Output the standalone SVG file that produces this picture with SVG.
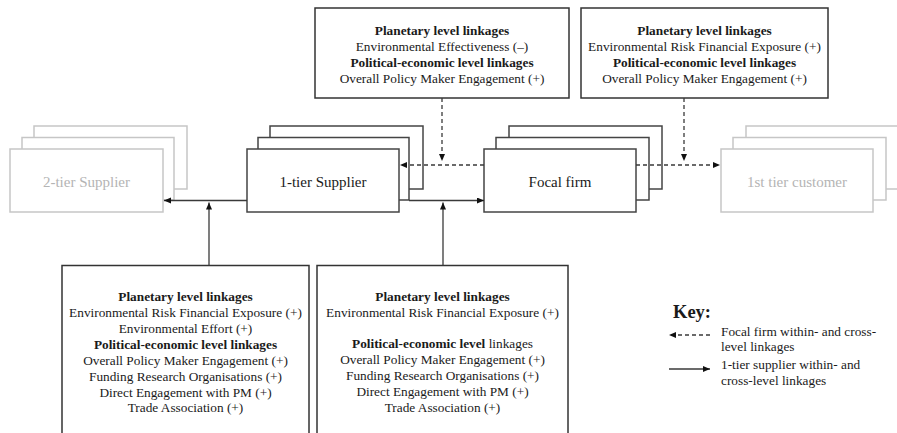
<svg xmlns="http://www.w3.org/2000/svg" width="897" height="433" viewBox="0 0 897 433">
  <defs>
    <style>
      text { font-family: "Liberation Serif", "Times New Roman", serif; fill: #1a1a1a; }
      .t { font-size: 13.3px; text-anchor: middle; }
      .b { font-weight: bold; }
      .node { font-size: 15px; text-anchor: middle; }
      .faded { fill: #b4b4b4; }
      .box { fill: #ffffff; stroke: #333333; stroke-width: 1.5; }
      .card { fill: #ffffff; stroke: #444444; stroke-width: 1.5; }
      .ghost { fill: #ffffff; stroke: #c6c6c6; stroke-width: 1.5; }
      .solid { fill: none; stroke: #3a3a3a; stroke-width: 1.3; }
      .dash { fill: none; stroke: #3a3a3a; stroke-width: 1.3; stroke-dasharray: 4 3; }
      .key { font-size: 13.3px; }
    </style>
    <marker id="head" markerUnits="userSpaceOnUse" markerWidth="8" markerHeight="7" refX="7" refY="3" orient="auto">
      <path d="M0,0 L7,3 L0,6 Z" fill="#111111"/>
    </marker>
  </defs>

  <!-- supply-chain tiers -->
  <g id="tier2-supplier">
    <rect class="ghost" x="34" y="126" width="153" height="63"/>
    <rect class="ghost" x="22" y="137.5" width="152" height="62.5"/>
    <rect class="ghost" x="10" y="149" width="153" height="63"/>
    <text class="node faded" x="86.5" y="187">2-tier Supplier</text>
  </g>

  <g id="tier1-supplier">
    <rect class="card" x="270" y="126" width="153" height="63"/>
    <rect class="card" x="258" y="137.5" width="151" height="62.5"/>
    <rect class="card" x="247" y="149" width="152" height="63"/>
    <text class="node" x="323" y="187">1-tier Supplier</text>
  </g>

  <g id="focal-firm">
    <rect class="card" x="509" y="126" width="153" height="63"/>
    <rect class="card" x="496" y="137.5" width="153" height="62.5"/>
    <rect class="card" x="484" y="149" width="152" height="63"/>
    <text class="node" x="560" y="187">Focal firm</text>
  </g>

  <g id="tier1-customer">
    <rect class="ghost" x="746" y="126" width="160" height="63"/>
    <rect class="ghost" x="733" y="137.5" width="153" height="62.5"/>
    <rect class="ghost" x="721" y="149" width="152" height="63"/>
    <text class="node faded" x="797" y="187">1st tier customer</text>
  </g>

  <!-- linkage boxes -->
  <g id="focal-upstream-linkages">
    <rect class="box" x="315" y="8" width="254" height="90"/>
    <text class="t b" x="442" y="35">Planetary level linkages</text>
    <text class="t" x="442" y="51">Environmental Effectiveness (–)</text>
    <text class="t b" x="442" y="67">Political-economic level linkages</text>
    <text class="t" x="442" y="83">Overall Policy Maker Engagement (+)</text>
  </g>

  <g id="focal-downstream-linkages">
    <rect class="box" x="581" y="8" width="247" height="90"/>
    <text class="t b" x="704.5" y="35">Planetary level linkages</text>
    <text class="t" x="704.5" y="51">Environmental Risk Financial Exposure (+)</text>
    <text class="t b" x="704.5" y="67">Political-economic level linkages</text>
    <text class="t" x="704.5" y="83">Overall Policy Maker Engagement (+)</text>
  </g>

  <g id="supplier-upstream-linkages">
    <rect class="box" x="62" y="265.5" width="247" height="190"/>
    <text class="t b" x="185.5" y="301">Planetary level linkages</text>
    <text class="t" x="185.5" y="317">Environmental Risk Financial Exposure (+)</text>
    <text class="t" x="185.5" y="333">Environmental Effort (+)</text>
    <text class="t b" x="185.5" y="349">Political-economic level linkages</text>
    <text class="t" x="185.5" y="365">Overall Policy Maker Engagement (+)</text>
    <text class="t" x="185.5" y="381">Funding Research Organisations (+)</text>
    <text class="t" x="185.5" y="397">Direct Engagement with PM (+)</text>
    <text class="t" x="185.5" y="412">Trade Association (+)</text>
  </g>

  <g id="supplier-downstream-linkages">
    <rect class="box" x="317" y="265.5" width="251" height="190"/>
    <text class="t b" x="442.5" y="301">Planetary level linkages</text>
    <text class="t" x="442.5" y="317">Environmental Risk Financial Exposure (+)</text>
    <text class="t" x="442.5" y="348"><tspan class="b">Political-economic level</tspan> linkages</text>
    <text class="t" x="442.5" y="364">Overall Policy Maker Engagement (+)</text>
    <text class="t" x="442.5" y="380">Funding Research Organisations (+)</text>
    <text class="t" x="442.5" y="396">Direct Engagement with PM (+)</text>
    <text class="t" x="442.5" y="412">Trade Association (+)</text>
  </g>

  <!-- connectors -->
  <g id="connectors">
    <!-- focal firm linkages (dashed) -->
    <line class="dash" x1="484" y1="165" x2="400" y2="165" marker-end="url(#head)"/>
    <line class="dash" x1="636" y1="165" x2="720" y2="165" marker-end="url(#head)"/>
    <line class="dash" x1="442" y1="98" x2="442" y2="161" marker-end="url(#head)"/>
    <line class="dash" x1="684" y1="98" x2="684" y2="161" marker-end="url(#head)"/>
    <!-- 1-tier supplier linkages (solid) -->
    <line class="solid" x1="247" y1="200.5" x2="164" y2="200.5" marker-end="url(#head)"/>
    <line class="solid" x1="409" y1="200.5" x2="484" y2="200.5" marker-end="url(#head)"/>
    <line class="solid" x1="209" y1="265.5" x2="209" y2="202.5" marker-end="url(#head)"/>
    <line class="solid" x1="443" y1="265.5" x2="443" y2="202.5" marker-end="url(#head)"/>
  </g>

  <!-- legend -->
  <g id="key">
    <text x="673" y="318" font-size="18.5" font-weight="bold">Key:</text>
    <line class="dash" x1="710" y1="335" x2="669" y2="335" marker-end="url(#head)"/>
    <text class="key" x="721" y="336">Focal firm within- and cross-</text>
    <text class="key" x="721" y="351">level linkages</text>
    <line class="solid" x1="669" y1="369" x2="710" y2="369" marker-end="url(#head)"/>
    <text class="key" x="721" y="369">1-tier supplier within- and</text>
    <text class="key" x="721" y="385">cross-level linkages</text>
  </g>
</svg>
